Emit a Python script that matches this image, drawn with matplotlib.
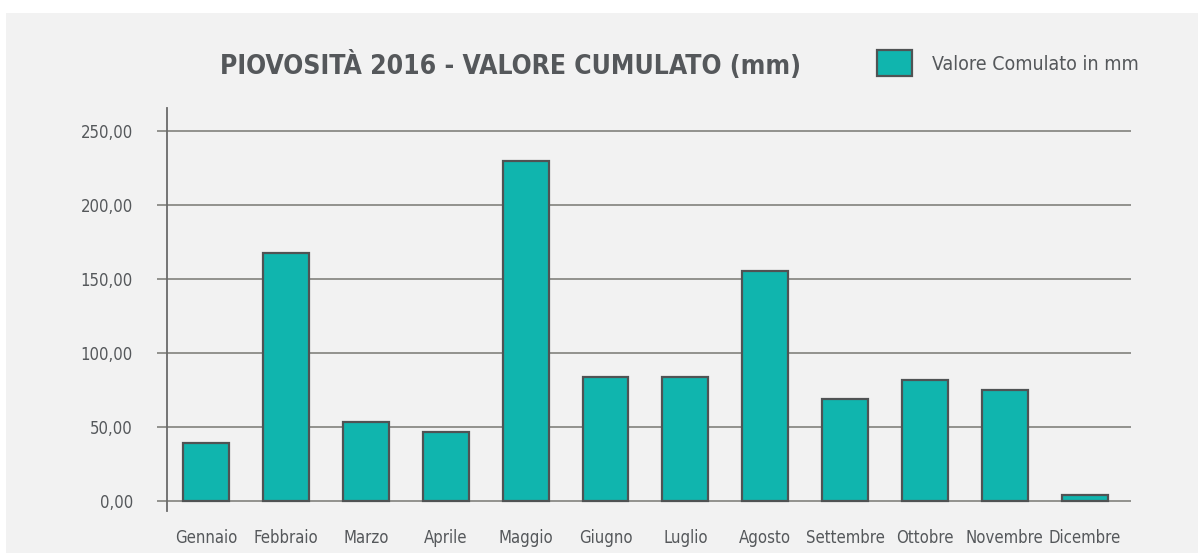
"""
Piovosita 2016 - bar chart of cumulated rainfall per month
"""
import matplotlib.pyplot as pp
import matplotlib.patches as mpatches
import matplotlib.ticker as ticker
from matplotlib import font_manager as fm

mesi = ["Gennaio", "Febbraio", "Marzo", "Aprile", "Maggio", "Giugno",
        "Luglio", "Agosto", "Settembre", "Ottobre", "Novembre", "Dicembre"]
valori = [39.4, 167.3, 53.6, 46.6, 229.7, 83.8, 83.8, 155.6, 68.9, 81.5, 75.2, 4.0]
yticks = [0, 50, 100, 150, 200, 250]

TEXT = "#55585b"
TEAL = "#10b5ae"
EDGE = "#505354"
PANEL = "#f2f2f2"

# pick a narrow face if one is installed, the reference uses a condensed font
narrow = [f for f in fm.fontManager.ttflist
          if "Narrow" in f.name or "Condensed" in f.name or f.stretch in ("condensed", "semi-condensed")]
names = [f.name for f in fm.fontManager.ttflist]
stretch = "normal"
if narrow:
    FAMILY = narrow[0].name
    stretch = narrow[0].stretch
elif "Liberation Sans" in names:
    FAMILY = "Liberation Sans"
else:
    FAMILY = "DejaVu Sans"

pp.rcParams['font.family'] = [FAMILY, "DejaVu Sans"]
pp.rcParams['font.stretch'] = stretch

fig = pp.figure(figsize=(11.98, 5.53), dpi=100, facecolor="white")
# light grey card behind everything
fig.patches.append(mpatches.Rectangle((6 / 1198, 0), 1, 1 - 13 / 553,
                                      transform=fig.transFigure,
                                      facecolor=PANEL, edgecolor="none", zorder=-5))

ax = fig.add_axes([167 / 1198, 42 / 553, (1131 - 167) / 1198, (511 - 108) / 553])
ax.set_facecolor("none")
ax.set_zorder(2)

xs = range(len(mesi))
ax.bar(xs, valori, width=0.575, color=TEAL, edgecolor=EDGE, linewidth=1.6, zorder=3)

ax.set_xlim(-0.49, 11.58)
ax.set_ylim(-6.8, 265.5)
ax.set_yticks(yticks)
ax.yaxis.set_major_formatter(ticker.FuncFormatter(lambda v, pos: ("%.2f" % v).replace(".", ",")))
ax.set_xticks(list(xs))
ax.set_xticklabels(mesi)

ax.grid(axis="y", color="#8a8a86", linewidth=1.3, zorder=1)
for s in ["top", "right", "bottom"]:
    ax.spines[s].set_visible(False)
ax.spines["left"].set_color("#6a6a6a")
ax.spines["left"].set_linewidth(1.3)

ax.tick_params(axis="y", length=7.5, width=1.3, color="#8a8a86", pad=17,
               labelsize=12, labelcolor=TEXT)
ax.tick_params(axis="x", length=0, pad=13, labelsize=12, labelcolor=TEXT)

fig.text(510 / 1198, 1 - 66 / 553, "PIOVOSITÀ 2016 - VALORE CUMULATO (mm)",
         ha="center", va="center", fontsize=19, fontweight="bold", color=TEXT)

fig.patches.append(mpatches.Rectangle((877 / 1198, 1 - 76 / 553), 35 / 1198, 26 / 553,
                                      transform=fig.transFigure, facecolor=TEAL,
                                      edgecolor=EDGE, linewidth=1.6, zorder=3))
fig.text(932 / 1198, 1 - 65 / 553, "Valore Comulato in mm", ha="left", va="center",
         fontsize=14, color=TEXT)

pp.savefig("out.png", dpi=100, facecolor=fig.get_facecolor())
